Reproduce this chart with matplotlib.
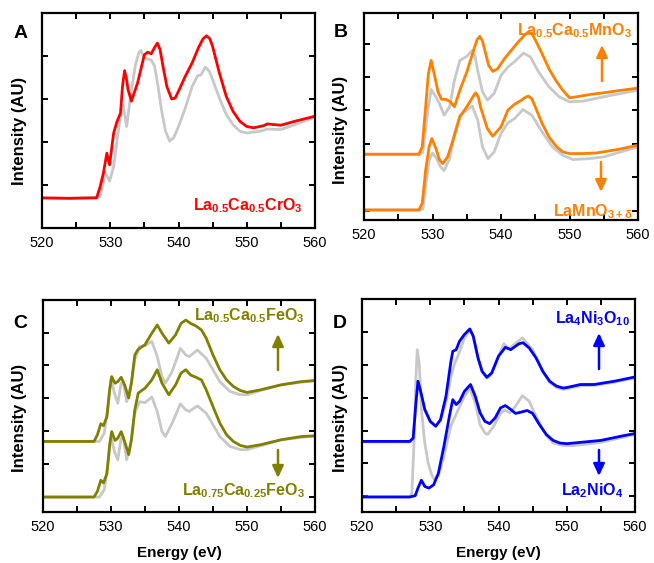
import matplotlib
matplotlib.use("Agg")
import matplotlib.pyplot as plt

plt.rcParams['font.family'] = ['Liberation Sans', 'DejaVu Sans']
plt.rcParams['mathtext.fontset'] = 'custom'
plt.rcParams['mathtext.rm'] = 'Liberation Sans:bold'
plt.rcParams['mathtext.it'] = 'Liberation Sans:bold'
plt.rcParams['mathtext.bf'] = 'Liberation Sans:bold'
plt.rcParams['mathtext.default'] = 'rm'

# ---------------- data ----------------
# Panel A : La0.5Ca0.5CrO3 (red) vs reference (gray)
a_red_e = [520, 524, 528, 528.5, 529.0, 529.5, 529.9, 530.5, 531.0, 531.5, 531.8, 532.1, 532.4, 532.6, 533.1,
           534, 535, 535.5, 536, 536.5, 536.9, 537.3, 537.8, 538.3, 539, 539.5, 540, 541, 542, 543, 543.6,
           544.1, 544.6, 545, 546, 547, 548, 549, 550, 551, 552.5, 553, 555, 557, 560]
a_red_i = [0.70, 0.69, 0.70, 0.95, 1.28, 1.74, 1.47, 2.21, 2.48, 2.67, 3.30, 3.66, 3.45, 3.22, 2.95,
           3.37, 4.03, 4.09, 4.05, 4.20, 4.30, 4.15, 3.70, 3.29, 3.00, 3.02, 3.18, 3.53, 3.84, 4.22, 4.40,
           4.47, 4.40, 4.22, 3.60, 3.06, 2.71, 2.48, 2.36, 2.33, 2.38, 2.42, 2.39, 2.48, 2.60]
a_gray_e = [520, 524, 528.5, 529.3, 529.9, 530.5, 531.0, 531.5, 531.9, 532.4, 533.0, 533.7, 534.2, 534.5,
            534.9, 535.5, 536, 536.5, 537, 537.5, 538.1, 538.7, 539.3, 540, 541, 542, 542.8, 543.3, 543.9,
            544.5, 545, 546, 547, 548, 549, 550, 552, 553, 555, 557, 560]
a_gray_i = [0.70, 0.69, 0.72, 1.28, 1.09, 1.43, 2.05, 2.60, 2.85, 2.36, 3.10, 3.80, 4.08, 4.13,
            3.98, 3.93, 3.91, 3.76, 3.30, 2.75, 2.25, 2.02, 2.10, 2.36, 2.79, 3.29, 3.54, 3.56, 3.74,
            3.65, 3.45, 3.02, 2.64, 2.40, 2.25, 2.21, 2.25, 2.30, 2.29, 2.40, 2.58]

# Panel B : La0.5Ca0.5MnO3 (upper) and LaMnO3+d (lower), orange vs gray
b_up_e = [520, 524, 528, 528.5, 529, 529.4, 529.8, 530.3, 530.8, 531.3, 532, 532.6, 533.2, 534, 535, 536,
          536.5, 536.9, 537.3, 537.7, 538.2, 538.8, 539.5, 540.5, 541.5, 542.5, 543.5, 544, 544.5, 545, 546,
          547, 548, 549, 550, 551, 553, 555, 557, 560]
b_up_i = [2.69, 2.69, 2.69, 2.91, 4.11, 5.10, 5.50, 5.05, 4.56, 4.34, 4.33, 4.26, 4.11, 4.61, 5.15, 5.80,
          6.12, 6.22, 6.08, 5.75, 5.35, 5.17, 5.25, 5.55, 5.80, 6.05, 6.27, 6.35, 6.30, 6.12, 5.70,
          5.25, 4.90, 4.61, 4.38, 4.41, 4.48, 4.53, 4.59, 4.67]
b_upg_e = [520, 524, 528.2, 528.6, 529.2, 529.8, 530.5, 531, 531.7, 532.5, 533.2, 534, 535, 535.8, 536.2,
           536.6, 537.3, 538, 539, 540, 541, 542, 543.3, 544.3, 545.5, 547, 548.5, 550, 552, 555, 560]
b_upg_i = [2.69, 2.69, 2.69, 2.75, 3.81, 4.63, 4.41, 4.21, 3.86, 4.11, 4.90, 5.50, 5.62, 5.80, 5.65,
           5.20, 4.56, 4.31, 4.51, 5.05, 5.30, 5.47, 5.72, 5.60, 5.15, 4.71, 4.41, 4.26, 4.28, 4.41, 4.61]
b_lo_e = [520, 524, 528, 528.5, 529, 529.5, 529.9, 530.5, 531, 531.5, 532.2, 533, 534, 535, 535.9, 536.3,
          536.7, 537, 538, 538.8, 540, 541, 542, 543, 543.6, 544, 544.5, 545, 546, 547, 548, 549, 550, 552,
          554, 557, 560]
b_lo_i = [1.02, 1.02, 1.02, 1.22, 2.22, 2.91, 3.16, 2.86, 2.53, 2.41, 2.61, 3.11, 3.81, 4.11, 4.41, 4.53,
          4.40, 4.11, 3.46, 3.23, 3.51, 4.01, 4.19, 4.31, 4.40, 4.43, 4.35, 4.11, 3.61, 3.21, 2.94, 2.76,
          2.71, 2.71, 2.73, 2.83, 2.96]
b_log_e = [520, 524, 528.2, 528.6, 529, 529.5, 530, 530.6, 531.2, 531.7, 532.5, 533.2, 534, 535, 535.8,
           536.6, 537.3, 538.1, 539, 540, 541, 542, 543.2, 544.5, 546, 547.5, 549, 550.5, 553, 555, 560]
b_log_i = [1.02, 1.02, 1.02, 1.05, 1.72, 2.51, 2.73, 2.56, 2.31, 2.20, 2.56, 3.31, 3.86, 4.01, 4.13,
           3.71, 2.91, 2.56, 2.76, 3.31, 3.63, 3.76, 4.03, 3.86, 3.36, 2.91, 2.66, 2.53, 2.56, 2.61, 2.91]

# Panel C : La0.5Ca0.5FeO3 (upper) and La0.75Ca0.25FeO3 (lower), olive vs gray
c_up_e = [520, 524, 527.5, 528, 528.5, 528.9, 529.4, 529.8, 530.1, 530.6, 531.0, 531.5, 532, 532.6, 533,
          533.5, 534, 535, 536, 536.8, 537.5, 538.5, 539.5, 540.3, 541, 541.7, 542.5, 543.3, 544, 545, 546,
          547, 548, 549, 550, 552, 555, 558, 560]
c_up_i = [2.69, 2.69, 2.69, 2.89, 3.23, 3.17, 3.45, 4.26, 4.66, 4.46, 4.51, 4.64, 4.41, 4.01, 4.46,
          5.32, 5.49, 5.63, 5.98, 6.23, 5.98, 5.68, 5.93, 6.28, 6.38, 6.28, 6.20, 6.08, 5.83, 5.32, 4.87,
          4.56, 4.36, 4.24, 4.18, 4.26, 4.41, 4.51, 4.54]
c_upg_e = [520, 524, 528.3, 529, 529.5, 530, 530.5, 531, 531.5, 531.8, 532.3, 533, 533.5, 534.2, 535, 536,
           536.8, 537.5, 538, 539, 540.2, 541, 541.5, 542.7, 544, 545, 546, 547.5, 549, 550, 552, 555, 560]
c_upg_i = [2.69, 2.69, 2.69, 2.94, 3.65, 4.61, 4.16, 3.85, 4.46, 4.51, 3.90, 4.46, 5.17, 5.57, 5.60, 5.73,
           5.27, 4.66, 4.46, 4.82, 5.52, 5.32, 5.27, 5.47, 5.22, 4.87, 4.51, 4.21, 4.11, 4.11, 4.24, 4.41, 4.54]
c_lo_e = c_up_e
c_lo_i = [1.00, 1.00, 1.00, 1.17, 1.51, 1.43, 1.71, 2.59, 2.99, 2.72, 2.79, 2.99, 2.69, 2.29, 2.74,
          3.65, 4.16, 4.31, 4.56, 4.87, 4.46, 4.11, 4.41, 4.77, 4.87, 4.71, 4.64, 4.56, 4.26, 3.75, 3.25,
          2.89, 2.69, 2.57, 2.52, 2.59, 2.74, 2.84, 2.86]
c_log_e = c_upg_e
c_log_i = [1.00, 1.00, 1.00, 1.22, 1.93, 2.84, 2.39, 2.13, 2.79, 2.84, 2.13, 2.74, 3.55, 3.90, 3.87, 4.04,
           3.60, 2.99, 2.84, 3.25, 3.83, 3.65, 3.60, 3.77, 3.55, 3.20, 2.84, 2.54, 2.44, 2.44, 2.56, 2.74, 2.86]

# Panel D : La4Ni3O10 (upper) and La2NiO4 (lower), blue vs gray
d_up_e = [520, 524, 527, 527.5, 527.9, 528.2, 528.6, 529.2, 530, 530.8, 531.5, 532.3, 533, 533.3, 533.8,
          534.3, 535, 535.8, 536.3, 537, 537.6, 538.3, 539, 540, 541, 541.8, 543, 543.6, 544.5, 545.5,
          546.5, 547.5, 548.5, 549.5, 550.5, 552, 554, 557, 560]
d_up_i = [2.67, 2.67, 2.67, 2.77, 3.84, 4.50, 4.19, 3.64, 3.28, 3.13, 3.33, 4.04, 5.06, 5.41, 5.46,
          5.72, 5.92, 6.09, 5.87, 5.21, 4.80, 4.62, 4.75, 5.26, 5.53, 5.46, 5.64, 5.67, 5.51, 5.21,
          4.80, 4.50, 4.35, 4.29, 4.33, 4.40, 4.40, 4.50, 4.63]
d_upg_e = [520, 524, 527, 527.5, 527.9, 528.2, 528.6, 529.2, 530, 530.8, 531.5, 532.3, 533, 533.5, 534.3,
           535, 535.8, 536.3, 537, 537.6, 538.3, 539, 540, 540.8, 541.5, 542.5, 543.5, 545, 546.5, 547.5,
           548.5, 549.5, 550.5, 552, 554, 557, 560]
d_upg_i = [2.65, 2.65, 2.65, 2.78, 3.80, 4.45, 4.16, 3.62, 3.26, 3.14, 3.30, 3.85, 4.60, 5.00, 5.40,
           5.80, 6.07, 5.85, 5.19, 4.78, 4.59, 4.72, 5.25, 5.64, 5.48, 5.65, 5.82, 5.46, 4.78, 4.46,
           4.31, 4.25, 4.29, 4.36, 4.37, 4.47, 4.60]
d_lo_e = [520, 524, 527, 527.8, 528.2, 528.7, 529.2, 529.8, 530.5, 531.2, 532, 532.8, 533.3, 533.8, 534.3,
          535, 535.9, 536.6, 537.3, 538, 538.7, 539.5, 540.3, 541, 541.8, 542.5, 543.3, 544.2, 545, 546,
          547, 548, 549, 550, 552, 555, 558, 560]
d_lo_i = [0.98, 0.98, 0.98, 1.02, 1.25, 1.49, 1.30, 1.25, 1.35, 1.71, 2.52, 3.43, 3.94, 3.79, 3.89,
          4.19, 4.40, 4.04, 3.54, 3.28, 3.21, 3.38, 3.69, 3.76, 3.64, 3.52, 3.56, 3.61, 3.52, 3.18,
          2.88, 2.70, 2.62, 2.60, 2.64, 2.70, 2.83, 2.91]
d_log_e = [520, 524, 527, 527.3, 527.6, 527.9, 528.1, 528.4, 528.7, 529.2, 529.7, 530.2, 530.6, 531.2, 532,
           533, 534, 535, 535.8, 536.6, 537.3, 538, 538.4, 539.3, 540.3, 540.9, 541.7, 542.5, 543.5,
           544.5, 545.5, 547, 548, 549.5, 551, 555, 560]
d_log_i = [0.98, 0.98, 0.98, 1.10, 2.50, 4.60, 5.46, 5.00, 3.64, 2.62, 2.01, 1.66, 1.51, 1.62, 2.22,
           3.13, 3.59, 4.04, 4.27, 3.84, 3.18, 2.93, 2.88, 3.13, 3.52, 3.62, 3.54, 3.74, 4.06,
           3.89, 3.43, 2.85, 2.62, 2.54, 2.54, 2.64, 2.88]

x_ticks = [520, 525, 530, 535, 540, 545, 550, 555, 560]
x_labels = ['520', '', '530', '', '540', '', '550', '', '560']

# ---------------- styles ----------------
W, H = 654, 563
GRAY = '#c8c8c8'
RED = '#ff0000'
ORANGE = '#ff7f00'
OLIVE = '#808000'
BLUE = '#0000ff'
LW = 2.0

fig = plt.figure(figsize=(W / 100, H / 100), dpi=100)


def rect(l, r, t, b):
    return [l / W, 1 - b / H, (r - l) / W, (b - t) / H]


def style(ax, ylim, yticks):
    ax.set_xlim(520, 560)
    ax.set_ylim(*ylim)
    ax.set_xticks(x_ticks)
    ax.set_xticklabels(x_labels)
    ax.set_yticks(yticks)
    ax.set_yticklabels([])
    ax.tick_params(direction='in', length=4, width=1.4, top=True, right=True,
                   labelsize=10.5, pad=6, colors='black')
    for s in ax.spines.values():
        s.set_linewidth(1.6)


def line(ax, e, i, c):
    ax.plot(e, i, color=c, lw=LW, solid_joinstyle='round', solid_capstyle='round')


def ftext(x, y, s, **kw):
    fig.text(x / W, 1 - y / H, s, **kw)


def arrow(ax, x, y0, y1, color):
    ax.annotate('', xy=(x, H - y1), xytext=(x, H - y0), xycoords='figure pixels',
                textcoords='figure pixels',
                arrowprops=dict(arrowstyle='-|>,head_length=0.6,head_width=0.28', color=color,
                                lw=1.8, mutation_scale=12, shrinkA=0, shrinkB=0))


# Panel A
axA = fig.add_axes(rect(42, 315, 13, 228))
line(axA, a_gray_e, a_gray_i, GRAY)
line(axA, a_red_e, a_red_i, RED)
style(axA, (0, 5.0), [1, 2, 3, 4])

# Panel B
axB = fig.add_axes(rect(364, 638, 13, 220))
line(axB, b_upg_e, b_upg_i, GRAY)
line(axB, b_log_e, b_log_i, GRAY)
line(axB, b_up_e, b_up_i, ORANGE)
line(axB, b_lo_e, b_lo_i, ORANGE)
style(axB, (0.72, 6.92), [1, 2, 3, 4, 5, 6])

# Panel C
axC = fig.add_axes(rect(43, 315, 300, 512))
line(axC, c_upg_e, c_upg_i, GRAY)
line(axC, c_log_e, c_log_i, GRAY)
line(axC, c_up_e, c_up_i, OLIVE)
line(axC, c_lo_e, c_lo_i, OLIVE)
style(axC, (0.545, 6.99), [1, 2, 3, 4, 5, 6])

# Panel D
axD = fig.add_axes(rect(362, 635, 299, 512))
line(axD, d_upg_e, d_upg_i, GRAY)
line(axD, d_log_e, d_log_i, GRAY)
line(axD, d_up_e, d_up_i, BLUE)
line(axD, d_lo_e, d_lo_i, BLUE)
style(axD, (0.523, 7.0), [1, 2, 3, 4, 5, 6])

# Panel letters and axis labels
lab = dict(fontsize=12, fontweight='bold', rotation=90, ha='center', va='center')
ftext(20, 131, 'Intensity (AU)', **lab)
ftext(341, 130, 'Intensity (AU)', **lab)
ftext(20, 418, 'Intensity (AU)', **lab)
ftext(341, 418, 'Intensity (AU)', **lab)
ftext(179, 553, 'Energy (eV)', fontsize=11, fontweight='bold', ha='center', va='center')
ftext(498, 553, 'Energy (eV)', fontsize=11, fontweight='bold', ha='center', va='center')

let = dict(fontsize=14, fontweight='bold', ha='center', va='baseline')
ftext(21, 38, 'A', **let)
ftext(341, 37, 'B', **let)
ftext(20, 328, 'C', **let)
ftext(340, 328, 'D', **let)

# Compound annotations
ann = dict(fontsize=11.5, fontweight='bold', ha='right', va='baseline')
ftext(303, 210, r'La$_{0.5}$Ca$_{0.5}$CrO$_3$', color=RED, **ann)
ftext(632, 35, r'La$_{0.5}$Ca$_{0.5}$MnO$_3$', color=ORANGE, **ann)
ftext(632, 216, r'LaMnO$_{3+\delta}$', color=ORANGE, **ann)
ftext(305, 320, r'La$_{0.5}$Ca$_{0.5}$FeO$_3$', color=OLIVE, **ann)
ftext(305, 495, r'La$_{0.75}$Ca$_{0.25}$FeO$_3$', color=OLIVE, **ann)
ftext(630, 323, r'La$_4$Ni$_3$O$_{10}$', color=BLUE, **ann)
ftext(623, 495, r'La$_2$NiO$_4$', color=BLUE, **ann)

arrow(axB, 602, 81, 45, ORANGE)
arrow(axB, 601, 162, 192, ORANGE)
arrow(axC, 278, 370, 334, OLIVE)
arrow(axC, 278, 450, 478, OLIVE)
arrow(axD, 599, 369, 333, BLUE)
arrow(axD, 599, 450, 476, BLUE)

fig.savefig('out.png', dpi=100)
